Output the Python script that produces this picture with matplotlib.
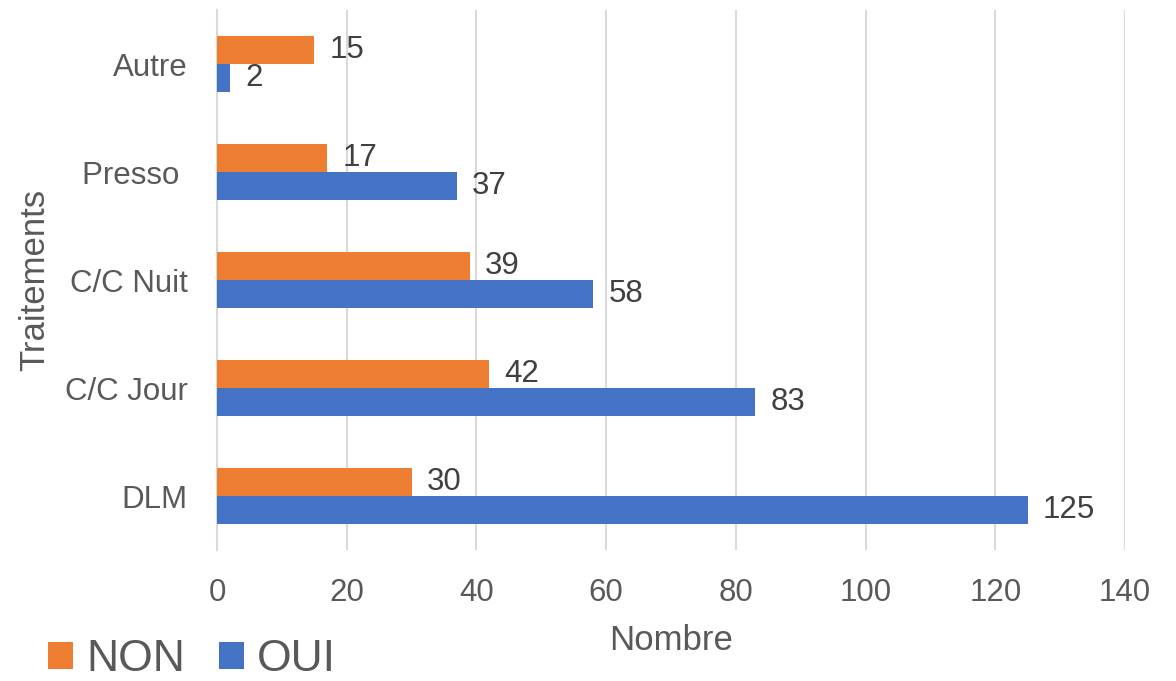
import numpy as np
import matplotlib
matplotlib.use("Agg")
import matplotlib.pyplot as plt

plt.rcParams["font.family"] = ["Liberation Sans", "DejaVu Sans"]

# data (bottom to top)
traitements = ["DLM", "C/C Jour", "C/C Nuit", "Presso ", "Autre"]
non_values = [30, 42, 39, 17, 15]
oui_values = [125, 83, 58, 37, 2]

ORANGE = "#ED7D31"
BLUE = "#4472C4"
TEXT = "#595959"
GRID = "#D9D9D9"

fig = plt.figure(figsize=(11.76, 6.81), dpi=100)
ax = fig.add_axes([217 / 1176, 1 - 550 / 681, (1125 - 217) / 1176, 540 / 681])

y = np.arange(len(traitements))
h = 0.26
bars_non = ax.barh(y + h / 2, non_values, height=h, color=ORANGE, label="NON", zorder=3)
bars_oui = ax.barh(y - h / 2, oui_values, height=h, color=BLUE, label="OUI", zorder=3)

# value labels
for bars in (bars_non, bars_oui):
    ax.bar_label(bars, padding=11, fontsize=22.5, color="#404040")

ax.set_xlim(0, 140)
ax.set_ylim(-0.5, len(traitements) - 0.5)
ax.set_xticks(range(0, 141, 20))
ax.set_yticks(y)
ax.set_yticklabels(traitements)
ax.tick_params(axis="both", length=0, labelsize=22.5, labelcolor=TEXT)
ax.tick_params(axis="x", pad=20)
ax.tick_params(axis="y", pad=21)

ax.grid(axis="x", color=GRID, linewidth=1.5, zorder=0)
for s in ["top", "right", "bottom"]:
    ax.spines[s].set_visible(False)
ax.spines["left"].set_color(GRID)
ax.spines["left"].set_linewidth(1.5)

ax.set_xlabel("Nombre", fontsize=25, color=TEXT, labelpad=12)
ax.set_ylabel("Traitements", fontsize=25, color=TEXT, labelpad=10)

fig.legend(handles=[bars_non, bars_oui], labels=["NON", "OUI"], loc="lower left",
           bbox_to_anchor=(0.007, -0.058), ncol=2, frameon=False, fontsize=32,
           handlelength=0.55, handleheight=0.55, handletextpad=0.3,
           columnspacing=0.77, labelcolor=TEXT)

fig.savefig("out.png", dpi=100)
